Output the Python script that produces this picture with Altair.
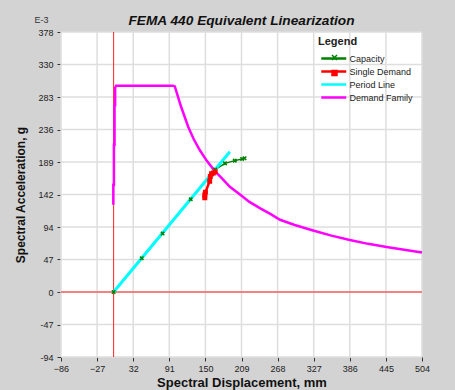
import altair as alt
import pandas as pd

# ---- series metadata ----
series_names = ["Capacity", "Single Demand", "Period Line", "Demand Family"]
series_colors = ["#008000", "#ff0000", "#00ffff", "#ff00ff"]
marker_names = ["Capacity", "Single Demand"]
marker_colors = ["#008000", "#ff0000"]
marker_shapes = ["M-1,-1L1,1M-1,1L1,-1", "square"]

# ---- data (spectral displacement mm, spectral acceleration E-3 g) ----
capacity_sd = [0, 46, 80, 126, 160, 166, 182, 198, 210, 214]
capacity_sa = [0, 49, 85, 135, 171, 178, 187, 191, 193.5, 194.5]

single_sd = [149, 149, 150, 157, 158, 160, 163, 166]
single_sa = [137, 141, 145, 161, 168, 172, 173, 175]

period_sd = [0, 190]
period_sa = [0, 204]

family_sd = [-0.5, -0.5, 0.5, 0.5, 1.5, 1.5, 2.5, 2.5, 4, 97, 100, 110, 122, 131, 141,
             152, 166, 174, 190, 206, 222, 239, 256, 272, 296, 326, 356, 386, 416,
             446, 475, 504]
family_sa = [127, 156, 156, 214, 214, 272, 272, 297, 300, 300, 299, 270, 240, 222, 206,
             191, 175, 168, 153, 142, 131, 122, 113.5, 105, 97.5, 89.5, 82, 75.5, 70,
             65.5, 61.5, 57.5]

x_ticks = [-86, -27, 32, 91, 150, 209, 268, 327, 386, 445, 504]
y_ticks = [-94.5, -47.25, 0, 47.25, 94.5, 141.75, 189, 236.25, 283.5, 330.75, 378]
y_tick_labels = ["-94", "-47", "0", "47", "94", "142", "189", "236", "283", "330", "378"]

FONT = "Liberation Sans"
GRID = "#dedede"


def frame(name, xs, ys):
    return pd.DataFrame({"series": name, "mk": name, "sd": xs, "sa": ys,
                         "i": list(range(len(xs)))})


df_cap = frame("Capacity", capacity_sd, capacity_sa)
df_single = frame("Single Demand", single_sd, single_sa)
df_period = frame("Period Line", period_sd, period_sa)
df_family = frame("Demand Family", family_sd, family_sa)
df_points = pd.concat([df_cap, df_single], ignore_index=True)
df_zero = pd.DataFrame({"sd": [0], "sa": [0]})
df_e3 = pd.DataFrame({"t": ["E-3"]})
df_bg = pd.DataFrame({"sd": [x_ticks[0]], "sd2": [x_ticks[-1]],
                      "sa": [y_ticks[0]], "sa2": [y_ticks[-1]]})
df_xgrid = pd.DataFrame({"sd": x_ticks})
df_ygrid = pd.DataFrame({"sa": y_ticks})

x_scale = alt.Scale(domain=[-86, 504], nice=False, zero=False)
y_scale = alt.Scale(domain=[-94.5, 378], nice=False, zero=False)

label_expr = " : ".join(
    f"datum.value == {v} ? '{l}'" for v, l in zip(y_ticks, y_tick_labels)
) + " : ''"

x_axis = alt.Axis(
    values=x_ticks, title="Spectral Displacement, mm", titleFont=FONT,
    titleFontSize=13, titleFontWeight="bold", titleColor="#111",
    labelFont=FONT, labelFontSize=9, labelColor="#222", labelPadding=3,
    tickColor="#333", tickSize=4, domain=False, grid=False,
    titlePadding=3, labelFlush=False,
)
y_axis = alt.Axis(
    values=y_ticks, labelExpr=label_expr, title="Spectral Acceleration, g",
    titleFont=FONT, titleFontSize=12, titleFontWeight="bold", titleColor="#111",
    labelFont=FONT, labelFontSize=9, labelColor="#222", labelPadding=4,
    tickColor="#333", tickSize=4, domain=False, grid=False,
    titlePadding=10, labelFlush=False,
)

X = alt.X("sd:Q", scale=x_scale, axis=x_axis)
Y = alt.Y("sa:Q", scale=y_scale, axis=y_axis)

# legend A: line symbols with labels
legend_lines = alt.Legend(
    title="Legend", orient="none", legendX=257, legendY=4,
    titleFont=FONT, titleFontSize=11, titleFontWeight="bold", titleColor="#222",
    titlePadding=4, labelFont=FONT, labelFontSize=9, labelColor="#222",
    symbolSize=156, symbolType="M-1,0H3", symbolOffset=2, labelOffset=14.5,
    rowPadding=-1, padding=0, symbolStrokeWidth=2.5,
)
# legend B: markers overlaid on the line symbols (no title, empty labels)
legend_marks = alt.Legend(
    title=None, orient="none", legendX=269, legendY=21,
    labelFont=FONT, labelFontSize=9, labelExpr="''",
    symbolSize=25, symbolOffset=0, labelOffset=0,
    rowPadding=4.4, padding=0, symbolStrokeWidth=1.5,
)
C = alt.Color("series:N", scale=alt.Scale(domain=series_names, range=series_colors),
              legend=legend_lines)

bg = alt.Chart(df_bg).mark_rect(fill="#ffffff", opacity=1, strokeWidth=0).encode(
    x=X, x2="sd2:Q", y=Y, y2="sa2:Q")
xgrid = alt.Chart(df_xgrid).mark_rule(color=GRID, strokeWidth=1.5).encode(x=X)
ygrid = alt.Chart(df_ygrid).mark_rule(color=GRID, strokeWidth=1.5).encode(y=Y)

vrule = alt.Chart(df_zero).mark_rule(color="#ff2020", strokeWidth=1).encode(x=X)
hrule = alt.Chart(df_zero).mark_rule(color="#ff2020", strokeWidth=1).encode(y=Y)

family = alt.Chart(df_family).mark_line(strokeWidth=2.5).encode(
    x=X, y=Y, color=C, order="i:Q")
cap_line = alt.Chart(df_cap).mark_line(strokeWidth=1.5).encode(
    x=X, y=Y, color=C, order="i:Q")
period = alt.Chart(df_period).mark_line(strokeWidth=3).encode(
    x=X, y=Y, color=C, order="i:Q")
points = alt.Chart(df_points).mark_point(filled=True, size=12, strokeWidth=1.5,
                                         opacity=1).encode(
    x=X, y=Y,
    shape=alt.Shape("mk:N", scale=alt.Scale(domain=marker_names, range=marker_shapes),
                    legend=legend_marks),
    fill=alt.Fill("mk:N", scale=alt.Scale(domain=marker_names, range=marker_colors),
                  legend=legend_marks),
    stroke=alt.Stroke("mk:N", scale=alt.Scale(domain=marker_names, range=marker_colors),
                      legend=legend_marks),
)
single_line = alt.Chart(df_single).mark_line(strokeWidth=2.5).encode(
    x=X, y=Y, color=C, order="i:Q")

e3 = alt.Chart(df_e3).mark_text(
    x=-19.5, y=-9, align="center", baseline="alphabetic", font=FONT,
    fontSize=9, color="#333").encode(text="t:N")

chart = alt.layer(
    bg, xgrid, ygrid, vrule, hrule, family, cap_line, period, points, single_line, e3
).properties(
    width=361, height=325,
    title=alt.Title("FEMA 440 Equivalent Linearization", font=FONT, fontSize=13.7,
                    fontWeight="bold", fontStyle="italic", color="#111",
                    anchor="middle", offset=-12),
    background="#d3d3d3",
    padding={"left": 61, "top": 32, "right": 33, "bottom": 33},
    autosize=alt.AutoSizeParams(type="none"),
).configure_view(strokeWidth=0)

chart.save("out.html", embed_options={"renderer": "svg", "actions": False})
